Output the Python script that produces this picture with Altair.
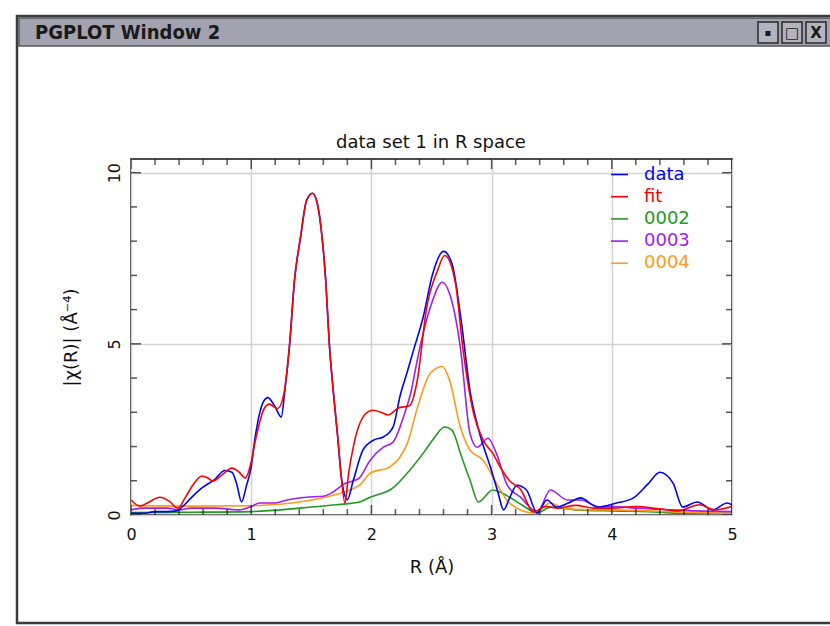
import altair as alt
import pandas as pd

# |chi(R)| curves, one R grid and one value list per series
data_r = [0.0, 0.1, 0.2, 0.3, 0.38, 0.43, 0.5, 0.59, 0.7, 0.78, 0.84, 0.88, 0.92, 0.96, 1.0,
          1.03, 1.07, 1.1, 1.14, 1.2, 1.25, 1.28, 1.32, 1.36, 1.41, 1.46, 1.51, 1.55, 1.59,
          1.62, 1.65, 1.68, 1.72, 1.75, 1.8, 1.85, 1.93, 2.02, 2.1, 2.18, 2.24, 2.3, 2.35,
          2.43, 2.51, 2.6, 2.67, 2.75, 2.82, 2.9, 2.99, 3.05, 3.1, 3.15, 3.21, 3.29, 3.38,
          3.46, 3.54, 3.64, 3.74, 3.88, 4.04, 4.18, 4.3, 4.4, 4.51, 4.59, 4.71, 4.84, 4.96, 5.0]
data_v = [0.05, 0.05, 0.1, 0.1, 0.12, 0.25, 0.5, 0.79, 1.05, 1.3, 1.25, 0.9, 0.38, 0.85, 1.41,
          2.2, 2.97, 3.3, 3.43, 3.15, 2.86, 3.64, 5.0, 6.85, 8.1, 9.18, 9.4, 9.1, 8.1,
          6.85, 5.0, 3.73, 2.27, 1.1, 0.45, 1.02, 1.9, 2.19, 2.28, 2.57, 3.5, 4.2, 4.81,
          5.77, 7.05, 7.7, 7.35, 5.6, 3.64, 2.39, 1.4, 0.7, 0.15, 0.5, 0.87, 0.73, 0.06,
          0.44, 0.23, 0.35, 0.5, 0.23, 0.35, 0.5, 0.9, 1.25, 0.93, 0.23, 0.38, 0.15, 0.35, 0.3]

fit_r = [0.0, 0.075, 0.15, 0.24, 0.32, 0.39, 0.45, 0.52, 0.59, 0.64, 0.68, 0.75, 0.84, 0.9,
         0.95, 1.0, 1.03, 1.07, 1.1, 1.15, 1.22, 1.27, 1.32, 1.36, 1.41, 1.46, 1.51, 1.55,
         1.59, 1.62, 1.65, 1.68, 1.72, 1.75, 1.78, 1.81, 1.85, 1.93, 2.01, 2.08, 2.14, 2.22,
         2.32, 2.38, 2.46, 2.55, 2.61, 2.7, 2.76, 2.85, 2.93, 3.01, 3.08, 3.15, 3.24, 3.35,
         3.45, 3.55, 3.7, 3.85, 4.0, 4.2, 4.4, 4.55, 4.73, 4.85, 5.0]
fit_v = [0.44, 0.26, 0.38, 0.52, 0.4, 0.2, 0.5, 0.9, 1.14, 1.08, 0.99, 1.15, 1.37, 1.25,
         1.08, 1.55, 2.09, 2.7, 3.05, 3.24, 3.11, 3.5, 5.0, 6.85, 8.1, 9.18, 9.4, 9.1,
         8.1, 6.85, 5.0, 3.73, 2.27, 1.1, 0.35, 1.2, 2.0, 2.86, 3.06, 3.0, 2.92, 3.12,
         3.2, 3.9, 6.06, 7.14, 7.58, 6.76, 4.9, 2.97, 2.19, 1.8, 1.35, 1.0, 0.75, 0.09,
         0.25, 0.2, 0.28, 0.2, 0.2, 0.25, 0.18, 0.12, 0.3, 0.15, 0.25]

s0002_r = [0.0, 0.5, 1.0, 1.4, 1.68, 1.9, 1.99, 2.18, 2.32, 2.43, 2.51, 2.61, 2.67, 2.75,
           2.82, 2.89, 3.01, 3.07, 3.15, 3.25, 3.38, 3.49, 3.7, 4.0, 4.3, 4.6, 5.0]
s0002_v = [0.07, 0.08, 0.1, 0.2, 0.29, 0.38, 0.52, 0.79, 1.31, 1.8, 2.19, 2.57, 2.48, 1.7,
           1.02, 0.38, 0.73, 0.67, 0.52, 0.3, 0.06, 0.23, 0.15, 0.12, 0.1, 0.05, 0.05]

s0003_r = [0.0, 0.1, 0.3, 0.4, 0.5, 0.7, 0.9, 1.0, 1.07, 1.2, 1.3, 1.46, 1.6, 1.68, 1.78,
           1.85, 1.9, 1.99, 2.1, 2.18, 2.27, 2.33, 2.38, 2.49, 2.59, 2.65, 2.74, 2.82, 2.88,
           2.97, 3.04, 3.13, 3.24, 3.38, 3.49, 3.63, 3.74, 3.9, 4.0, 4.2, 4.5, 4.7, 5.0]
s0003_v = [0.15, 0.2, 0.2, 0.15, 0.2, 0.2, 0.15, 0.25, 0.35, 0.35, 0.44, 0.52, 0.55, 0.67, 0.92,
           1.0, 1.08, 1.6, 1.98, 2.13, 2.9, 3.6, 4.5, 6.06, 6.8, 6.47, 4.9, 2.39, 1.98,
           2.24, 1.8, 0.87, 0.52, 0.09, 0.73, 0.44, 0.44, 0.23, 0.25, 0.2, 0.15, 0.12, 0.1]

s0004_r = [0.0, 0.5, 1.0, 1.13, 1.4, 1.68, 1.9, 1.99, 2.15, 2.24, 2.3, 2.38, 2.49, 2.59,
           2.65, 2.74, 2.82, 2.93, 3.04, 3.15, 3.35, 3.49, 3.6, 3.8, 4.0, 4.3, 4.6, 5.0]
s0004_v = [0.28, 0.26, 0.27, 0.29, 0.38, 0.58, 0.87, 1.22, 1.4, 1.7, 2.1, 3.1, 4.14, 4.34,
           3.94, 2.57, 1.9, 1.6, 0.93, 0.35, 0.06, 0.35, 0.2, 0.15, 0.15, 0.12, 0.08, 0.05]

series_names = ["data", "fit", "0002", "0003", "0004"]
series_colors = ["#0000ff", "#ff0000", "#229a22", "#a020f0", "#ff9a1a"]
draw_order = ["0002", "0004", "0003", "data", "fit"]

x_major = [0, 1, 2, 3, 4, 5]
x_minor = [0.2, 0.4, 0.6, 0.8, 1.2, 1.4, 1.6, 1.8, 2.2, 2.4, 2.6, 2.8,
           3.2, 3.4, 3.6, 3.8, 4.2, 4.4, 4.6, 4.8]
y_major = [0, 5, 10]
y_minor = [1, 2, 3, 4, 6, 7, 8, 9]

W, H = 601, 356
Y_TOP = 10.4
PAD_L, PAD_T, PAD_R, PAD_B = 131, 159, 98, 111
FONT = "DejaVu Sans"
INK = "#111111"

curves = {
    "data": (data_r, data_v),
    "fit": (fit_r, fit_v),
    "0002": (s0002_r, s0002_v),
    "0003": (s0003_r, s0003_v),
    "0004": (s0004_r, s0004_v),
}
df = pd.concat(
    [pd.DataFrame({"R": r, "chi": v, "series": name}) for name, (r, v) in curves.items()],
    ignore_index=True,
)

xs = alt.Scale(domain=[0, 5], nice=False, zero=False)
ys = alt.Scale(domain=[0, Y_TOP], nice=False, zero=False)
cs = alt.Scale(domain=series_names, range=series_colors)

legend = alt.Legend(
    title=None, orient="none", legendX=479, legendY=6, padding=0,
    symbolType="stroke", symbolSize=289, symbolStrokeWidth=1.6,
    labelFont=FONT, labelFontSize=18, labelOffset=15, rowPadding=3.2,
    labelColor={"expr": "scale('color', datum.value)"},
)

x_axis = alt.Axis(values=x_major, ticks=False, domain=False, grid=True,
                  gridColor="#d2d2d2", gridWidth=1.5, labelPadding=11, labelFlush=False,
                  labelFontSize=16, labelFont=FONT, labelColor=INK,
                  title="R (Å)", titleFont=FONT, titleFontSize=18,
                  titleFontWeight="normal", titlePadding=16, titleColor=INK)
y_axis = alt.Axis(values=y_major, ticks=False, domain=False, grid=True,
                  gridColor="#d2d2d2", gridWidth=1.5, labelPadding=9, labelFlush=False,
                  labelAngle=270, labelAlign="center", labelBaseline="bottom",
                  labelFontSize=16, labelFont=FONT, labelColor=INK,
                  title="|χ(R)| (Å⁻⁴)", titleFont=FONT, titleFontSize=18,
                  titleFontWeight="normal", titlePadding=26, titleColor=INK)

layers = [
    alt.Chart(df).transform_filter(alt.datum.series == name)
    .mark_line(strokeWidth=1.6, clip=True, interpolate="monotone")
    .encode(
        x=alt.X("R:Q", scale=xs, axis=x_axis),
        y=alt.Y("chi:Q", scale=ys, axis=y_axis),
        color=alt.Color("series:N", scale=cs, legend=legend),
    )
    for name in draw_order
]

# inward-pointing ticks on all four sides of the frame
def xticks(values, length, at):
    return alt.Chart(pd.DataFrame({"t": values})).mark_tick(
        orient="vertical", size=2 * length, thickness=1.5, color=INK, clip=True
    ).encode(x=alt.X("t:Q", scale=xs, axis=x_axis),
             y=alt.YDatum(at, scale=ys, axis=y_axis))

def yticks(values, length, at):
    return alt.Chart(pd.DataFrame({"t": values})).mark_tick(
        orient="horizontal", size=2 * length, thickness=1.5, color=INK, clip=True
    ).encode(y=alt.Y("t:Q", scale=ys, axis=y_axis),
             x=alt.XDatum(at, scale=xs, axis=x_axis))

tick_layers = [
    xticks(x_minor, 6, 0), xticks(x_major, 10, 0),
    xticks(x_minor, 6, Y_TOP), xticks(x_major, 10, Y_TOP),
    yticks(y_minor, 6, 0), yticks(y_major, 10, 0),
    yticks(y_minor, 6, 5), yticks(y_major, 10, 5),
]

# window decoration and plot heading (absolute page pixels shifted to plot origin)
one = pd.DataFrame({"k": [0]})

def box(x1, y1, x2, y2, fill, stroke, sw=1.0, fill_opacity=1.0):
    return alt.Chart(one).mark_rect(
        fill=fill, fillOpacity=fill_opacity, stroke=stroke, strokeWidth=sw
    ).encode(
        x=alt.value(x1 - PAD_L), x2=alt.value(x2 - PAD_L),
        y=alt.value(y1 - PAD_T), y2=alt.value(y2 - PAD_T),
    )

def label(x, y, text, size, weight="normal", font=FONT, color="#1a1a1a", align="left"):
    return alt.Chart(one).mark_text(
        font=font, fontSize=size, fontWeight=weight, color=color,
        align=align, baseline="middle",
    ).encode(x=alt.value(x - PAD_L), y=alt.value(y - PAD_T), text=alt.value(text))

chrome = [
    box(17, 16, 850, 623, "#ffffff", "#3c3c3c", 2.5, 0.0),
    box(19, 18, 850, 46, "#a3a3b0", "#55555f", 1.5),
    label(35, 33, "PGPLOT Window 2", 20, "bold",
          "DejaVu Sans Condensed, Liberation Sans Narrow, DejaVu Sans"),
    box(758, 22, 778, 43, "#b3b3bf", "#2a2a2a", 1.5),
    box(782, 22, 802, 43, "#b3b3bf", "#2a2a2a", 1.5),
    box(806, 22, 826, 43, "#b3b3bf", "#2a2a2a", 1.5),
    label(768, 33, "▪", 10, align="center"),
    label(792, 33, "□", 15, align="center"),
    label(816, 33, "X", 15, "bold", align="center"),
    label(431, 143, "data set 1 in R space", 18, color=INK, align="center"),
]

chart = alt.layer(*chrome, *layers, *tick_layers).properties(
    width=W, height=H,
    autosize=alt.AutoSizeParams(type="none"),
    padding={"left": PAD_L, "top": PAD_T, "right": PAD_R, "bottom": PAD_B},
    background="#ffffff",
).configure_view(stroke=INK, strokeWidth=1.6)

chart.save("out.html", embed_options={"renderer": "svg", "actions": False})
